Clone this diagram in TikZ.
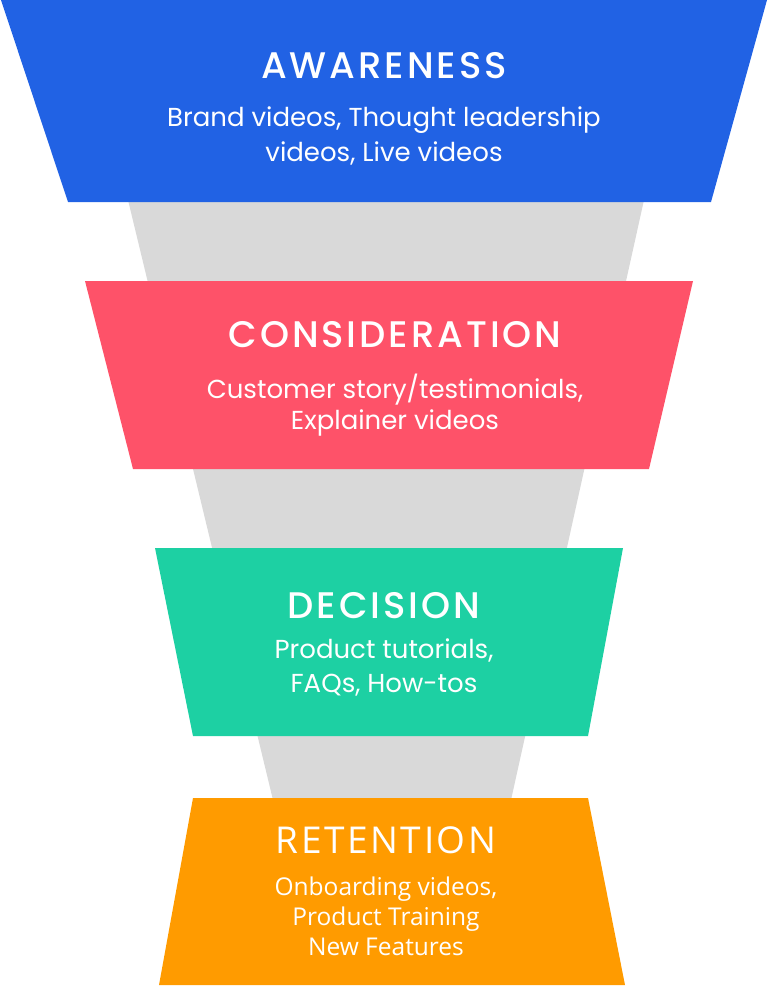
\documentclass[tikz,border=0pt]{standalone}
\usepackage{fontspec}
\setmainfont{Poppins}
\newfontfamily\ttlfont[LetterSpace=8]{Poppins Medium}
\newfontfamily\opensans{Open Sans}
\newfontfamily\ttlopen[LetterSpace=7]{Open Sans}
\usepackage{tikz}
\usetikzlibrary{positioning}
\definecolor{awarec}{HTML}{2162E4}
\definecolor{considc}{HTML}{FE5269}
\definecolor{decidc}{HTML}{1DD0A3}
\definecolor{retainc}{HTML}{FF9B00}
\definecolor{funnelc}{HTML}{D9D9D9}
\newcommand{\ttl}{\fontsize{37}{40}\selectfont}

\begin{document}
\begin{tikzpicture}[x=1pt, y=-1pt,
  stage/.style={fill=#1},
  head/.style={text=white, inner sep=0pt, anchor=base, font=\ttlfont\ttl},
  body/.style={text=white, inner sep=0pt, align=center, anchor=base,
               font=\fontsize{26}{#1}\selectfont},
  body/.default=35]
\useasboundingbox (0,0) rectangle (768,987);
% -- grey funnel behind the stages
\fill[funnelc] (128,200) -- (644,200) -- (511,800) -- (273,800) -- cycle;
% -- awareness
\fill[stage=awarec] (1,0) -- (767,0) -- (711,202) -- (68,202) -- cycle;
\node[head] (aware) at (384,79) {AWARENESS};
\node[body] (awaretxt) at (384,162) {Brand videos, Thought leadership\\videos, Live videos};
% -- consideration
\fill[stage=considc] (85,281) -- (693,281) -- (649,469) -- (133,469) -- cycle;
\node[head] (consid) at (395,347) {CONSIDERATION};
\node[body=31] (considtxt) at (395,429) {Customer story/testimonials,\\Explainer videos};
% -- decision
\fill[stage=decidc] (155,548) -- (623,548) -- (588,736) -- (193,736) -- cycle;
\node[head] (decid) at (384,618) {DECISION};
\node[body=34] (decidtxt) at (384,692) {Product tutorials,\\FAQs, How-tos};
% -- retention
\fill[stage=retainc] (193,798) -- (588,798) -- (625,985) -- (159,985) -- cycle;
\node[head, font=\ttlopen\ttl] (retain) at (386,853) {RETENTION};
\node[body, font=\opensans\fontsize{24.5}{30}\selectfont] (retaintxt) at (386,955)
  {Onboarding videos,\\Product Training\\New Features};
\end{tikzpicture}
\end{document}
